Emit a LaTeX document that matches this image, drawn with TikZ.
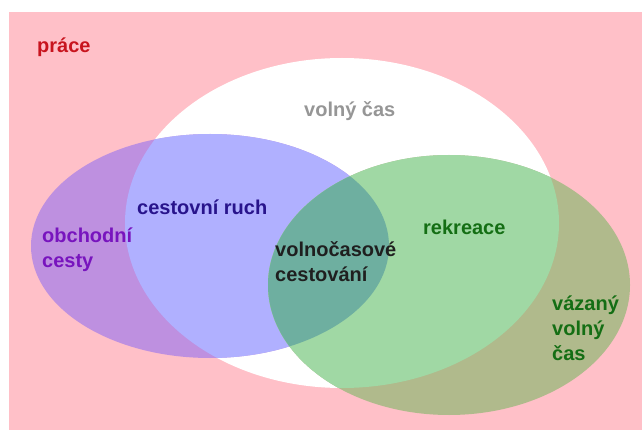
\documentclass[tikz,border=0pt]{standalone}
\usepackage{fontspec}
\setmainfont{Liberation Sans}
\begin{document}
\begin{tikzpicture}[x=1pt,y=-1pt,
  lbl/.style={font=\bfseries\fontsize{20}{25}\selectfont, anchor=base west, inner sep=0pt, align=left}]
\definecolor{bgpink}{RGB}{255,192,200}
\definecolor{lilac}{RGB}{190,144,224}
\definecolor{lightblue}{RGB}{176,176,255}
\definecolor{lightgreen}{RGB}{160,216,164}
\definecolor{olive}{RGB}{176,186,140}
\definecolor{teal2}{RGB}{110,175,160}
\definecolor{workred}{RGB}{200,20,30}
\definecolor{navy2}{RGB}{40,20,140}
\definecolor{purple2}{RGB}{120,20,190}
\definecolor{green2}{RGB}{20,110,20}
\definecolor{gray2}{RGB}{150,150,150}
\useasboundingbox (0,0) rectangle (642,430);
\def\freeE{(342,223) ellipse [x radius=217, y radius=165]}
\def\travelE{(210,246) ellipse [x radius=179, y radius=112]}
\def\leisureE{(449,285) ellipse [x radius=181, y radius=130]}
% work area
\fill[bgpink] (9,12) rectangle (642,430);
% free time
\fill[white] \freeE;
% business trips / tourism
\fill[lilac] \travelE;
\begin{scope}
  \clip \freeE;
  \fill[lightblue] \travelE;
\end{scope}
% recreation / bound free time
\fill[olive] \leisureE;
\begin{scope}
  \clip \freeE;
  \fill[lightgreen] \leisureE;
  \clip \travelE;
  \fill[teal2] \leisureE;
\end{scope}
% labels (multi-line labels are anchored at the baseline of their last line)
\node[lbl, text=workred] (prace) at (37,53) {práce};
\node[lbl, text=gray2] (volny) at (304,117) {volný čas};
\node[lbl, text=navy2] (ruch) at (137,215) {cestovní ruch};
\node[lbl, text=purple2] (obch) at (42,268) {obchodní\\cesty};
\node[lbl, text=black!88] (volnocas) at (275,281) {volnočasové\\cestování};
\node[lbl, text=green2] (rekreace) at (423,235) {rekreace};
\node[lbl, text=green2] (vazany) at (552,360) {vázaný\\volný\\čas};
\end{tikzpicture}
\end{document}
